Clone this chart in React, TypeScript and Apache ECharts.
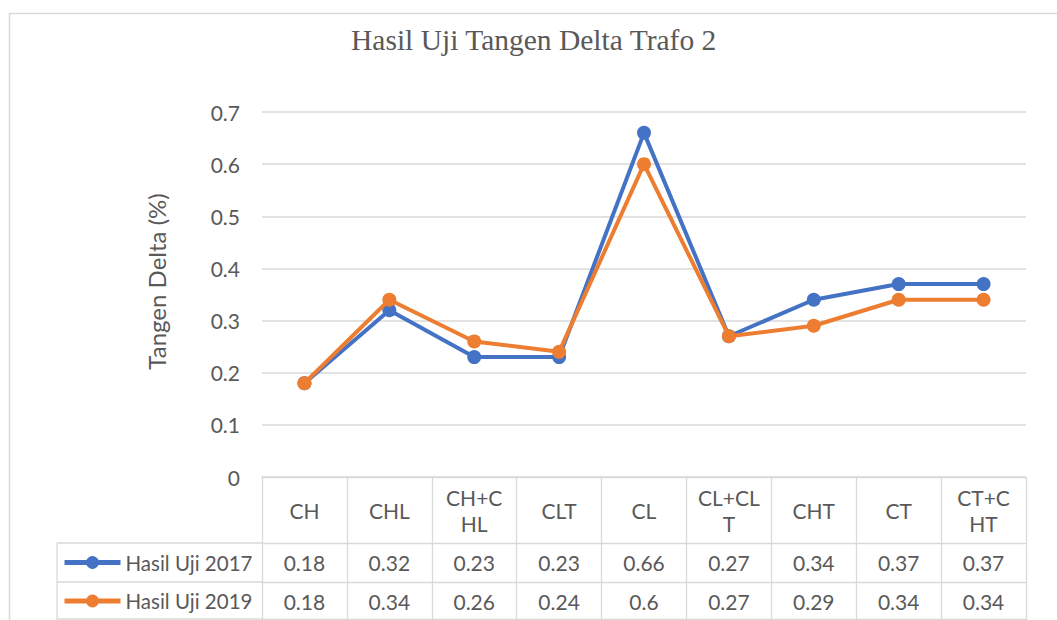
import React, { useEffect, useRef } from "react";
import * as echarts from "echarts";

const categories = ["CH", "CHL", "CH+C\nHL", "CLT", "CL", "CL+CL\nT", "CHT", "CT", "CT+C\nHT"];
const values2017 = [0.18, 0.32, 0.23, 0.23, 0.66, 0.27, 0.34, 0.37, 0.37];
const values2019 = [0.18, 0.34, 0.26, 0.24, 0.6, 0.27, 0.29, 0.34, 0.34];
const seriesNames = ["Hasil Uji 2017", "Hasil Uji 2019"];
const yTicks = { min: 0, max: 0.7, interval: 0.1 };

const GRID = "#d9d9d9";
const TXT = "#595959";
const FONT = "Lato";

export default function App() {
  const ref = useRef<HTMLDivElement>(null);
  useEffect(() => {
    if (!ref.current) return;
    const chart = echarts.init(ref.current, undefined, { renderer: "svg" });
    const H = 620;
    const gridLeft = 262, gridRight = 31, gridTop = 112, gridBottom = 143;
    const axisY = H - gridBottom;
    const row0 = 66, row1 = 39, row2 = 38;

    const tableAxis = (data: string[], offset: number, tickLen: number, show = true) => ({
      type: "category",
      data,
      position: "bottom",
      offset,
      boundaryGap: true,
      axisLine: { show: true, lineStyle: { color: GRID, width: 1.3 } },
      axisTick: { show, length: tickLen, interval: 0, lineStyle: { color: GRID, width: 1.3 } },
      axisLabel: {
        show,
        interval: 0,
        color: TXT,
        fontFamily: FONT,
        fontSize: 21,
        lineHeight: 26,
        margin: tickLen / 2,
        verticalAlign: "middle",
      },
      splitLine: { show: false },
    });

    const legendFor = (name: string, top: number) => ({
      orient: "horizontal",
      left: 62,
      top,
      padding: 0,
      itemWidth: 56,
      itemHeight: 16,
      itemGap: 5,
      data: [name],
      lineStyle: { width: 5 },
      textStyle: { color: TXT, fontFamily: FONT, fontSize: 20.5, lineHeight: 22 },
      selectedMode: false,
    });

    chart.setOption({
      animation: false,
      backgroundColor: "#fff",
      title: {
        text: "Hasil Uji Tangen Delta Trafo 2",
        left: 351,
        top: 25,
        padding: 0,
        textStyle: { fontFamily: "Liberation Serif", fontWeight: "normal", fontSize: 29.5, color: TXT },
      },
      grid: { left: gridLeft, right: gridRight, top: gridTop, bottom: gridBottom, containLabel: false },
      legend: [
        legendFor(seriesNames[0], axisY + row0 + row1 / 2 - 11),
        legendFor(seriesNames[1], axisY + row0 + row1 + row2 / 2 - 11),
      ],
      xAxis: [
        tableAxis(categories, 0, row0),
        tableAxis(values2017.map(String), row0, row1),
        tableAxis(values2019.map(String), row0 + row1, row2),
        tableAxis(categories.map(() => ""), row0 + row1 + row2 - 1, 0, false),
      ],
      yAxis: {
        type: "value",
        min: yTicks.min,
        max: yTicks.max,
        interval: yTicks.interval,
        name: "Tangen Delta (%)",
        nameLocation: "middle",
        nameGap: 94,
        nameTextStyle: { color: TXT, fontFamily: FONT, fontSize: 24, padding: [0, 0, 0, 26] },
        axisLine: { show: false },
        axisTick: { show: false },
        axisLabel: { color: TXT, fontFamily: FONT, fontSize: 21, margin: 22 },
        splitLine: { lineStyle: { color: GRID, width: 1.5 } },
      },
      graphic: [
        {
          type: "rect",
          shape: { x: 9.5, y: 13.5, width: 1100, height: 700 },
          style: { fill: "none", stroke: GRID, lineWidth: 1.5 },
          silent: true,
        },
        {
          type: "line",
          shape: { x1: 57, y1: axisY + row0, x2: gridLeft, y2: axisY + row0 },
          style: { stroke: GRID, lineWidth: 1.3 },
        },
        {
          type: "line",
          shape: { x1: 57, y1: axisY + row0 + row1, x2: gridLeft, y2: axisY + row0 + row1 },
          style: { stroke: GRID, lineWidth: 1.3 },
        },
        {
          type: "line",
          shape: { x1: 57, y1: H - 1, x2: gridLeft, y2: H - 1 },
          style: { stroke: GRID, lineWidth: 1.3 },
        },
        {
          type: "line",
          shape: { x1: 57, y1: axisY + row0, x2: 57, y2: H },
          style: { stroke: GRID, lineWidth: 1.3 },
        },
      ],
      series: [
        {
          name: seriesNames[0],
          type: "line",
          data: values2017,
          xAxisIndex: 0,
          symbol: "circle",
          symbolSize: 14,
          lineStyle: { color: "#4472C4", width: 4 },
          itemStyle: { color: "#4472C4" },
          z: 2,
        },
        {
          name: seriesNames[1],
          type: "line",
          data: values2019,
          xAxisIndex: 0,
          symbol: "circle",
          symbolSize: 14,
          lineStyle: { color: "#ED7D31", width: 4 },
          itemStyle: { color: "#ED7D31" },
          z: 3,
        },
      ],
    });
    return () => chart.dispose();
  }, []);
  return (
    <div
      ref={ref}
      style={{ position: "absolute", left: 0, top: 0, width: 1057, height: 620 }}
    />
  );
}
